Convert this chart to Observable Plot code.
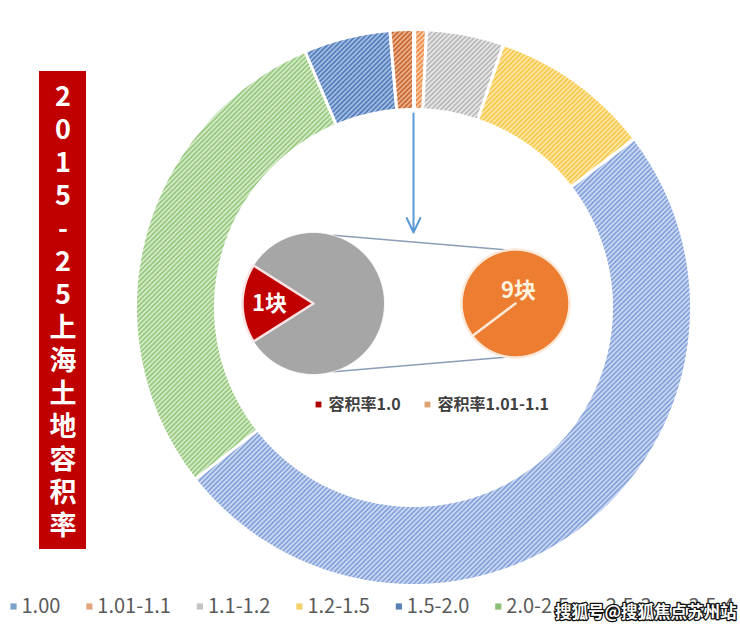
<!DOCTYPE html>
<html><head><meta charset="utf-8">
<script src="https://cdn.jsdelivr.net/npm/d3@7"></script>
<script src="https://cdn.jsdelivr.net/npm/@observablehq/plot@0.6"></script>
<style>body{margin:0;background:#fff;}</style>
</head><body><div id="chart"></div>
<script>
// ---------- data ----------
const categories = ["1.00","1.01-1.1","1.1-1.2","1.2-1.5","1.5-2.0","2.0-2.5","2.5-3","3.5-4"];
const blocks = [1, 9, 60, 125, 664, 390, 67, 18];
const legendColors = ["#7ea3c9","#e2a57c","#c4c4c4","#f3d06c","#5a80b6","#8dbf76","#466a9c","#b87044"];
const hatchFg = ["#7eaee0","#ee8c4a","#b9b9b9","#f7c84a","#86a3dc","#98c981","#5580bd","#c96a33"];
const hatchBg = ["#bdd7ee","#f8c9a5","#e6e6e6","#fde6a6","#c9d7f0","#d4eac6","#a2bbe0","#eab08c"];
const titleChars = ["2","0","1","5","-","2","5","上","海","土","地","容","积","率"];
const insetLabels = ["容积率1.0","容积率1.01-1.1"];
const insetCounts = ["1块","9块"];
const insetColors = ["#c00000","#ed7d31"];
const mainInsetShares = [0.18, 0.82];   // red slice vs grey remainder
const secondInsetShares = [1, 0];       // orange full pie with a zero slice
const watermark = "搜狐号@搜狐焦点苏州站";

// ---------- layout ----------
const W = 740, H = 634;
const cx = 413, cy = 307, R = 278, r0 = 198;
const p1 = {x: 313, y: 303, r: 71};
const p2 = {x: 515, y: 303, r: 54};
const cjk = "'Noto Sans CJK SC', 'Noto Sans', sans-serif";

function arcPts(a0, a1, ro, ri, ox, oy) {
  const pts = [];
  const n = Math.max(2, Math.ceil((a1 - a0) / (Math.PI / 360)));
  for (let k = 0; k <= n; k++) { const a = a0 + (a1 - a0) * k / n; pts.push({x: ox + ro * Math.sin(a), y: oy - ro * Math.cos(a)}); }
  if (ri > 0) {
    for (let k = n; k >= 0; k--) { const a = a0 + (a1 - a0) * k / n; pts.push({x: ox + ri * Math.sin(a), y: oy - ri * Math.cos(a)}); }
  } else {
    pts.unshift({x: ox, y: oy});
    pts.push({x: ox, y: oy});
  }
  pts.push(pts[0]);
  return pts;
}

const ringArcs = d3.pie().sort(null).value(d => d.value)(categories.map((c, i) => ({category: c, value: blocks[i]})));

const s1 = 1.5 * Math.PI - mainInsetShares[0] * Math.PI;
const inset1 = d3.pie().sort(null).startAngle(s1).endAngle(s1 + 2 * Math.PI)(mainInsetShares);
const s2 = (233 / 180) * Math.PI;
const inset2 = d3.pie().sort(null).startAngle(s2).endAngle(s2 + 2 * Math.PI)(secondInsetShares);

const marks = [];
ringArcs.forEach((a, i) => {
  marks.push(Plot.line(arcPts(a.startAngle, a.endAngle, R, r0, cx, cy), {x: "x", y: "y", fill: `url(#hatch${i})`, stroke: "white", strokeWidth: 3, strokeLinejoin: "round"}));
});
// connectors
const ang1 = 16 * Math.PI / 180, ang2 = 8 * Math.PI / 180;
const links = [
  {x1: p1.x + p1.r * Math.sin(ang1), y1: p1.y - p1.r * Math.cos(ang1), x2: p2.x - p2.r * Math.sin(ang2), y2: p2.y - p2.r * Math.cos(ang2)},
  {x1: p1.x + p1.r * Math.sin(ang1), y1: p1.y + p1.r * Math.cos(ang1), x2: p2.x - p2.r * Math.sin(ang2), y2: p2.y + p2.r * Math.cos(ang2)}
];
marks.push(Plot.link(links, {x1: "x1", y1: "y1", x2: "x2", y2: "y2", stroke: "#8c9db6", strokeWidth: 1.6}));
// inset pie 1
const inset1Fill = [insetColors[0], "#a6a6a6"];
inset1.slice().reverse().forEach((a) => {
  const i = a.index;
  marks.push(Plot.line(arcPts(a.startAngle, a.endAngle, p1.r, 0, p1.x, p1.y), {x: "x", y: "y", fill: inset1Fill[i], stroke: i === 0 ? "#fbe4e4" : "white", strokeWidth: i === 0 ? 2.5 : 1, strokeLinejoin: "round"}));
});
// inset pie 2
inset2.forEach((a) => {
  if (a.endAngle - a.startAngle < 1e-6) return;
  marks.push(Plot.line(arcPts(a.startAngle, a.endAngle, p2.r, 0, p2.x, p2.y), {x: "x", y: "y", fill: insetColors[1], stroke: "#fde9d9", strokeWidth: 2.5, strokeLinejoin: "round"}));
});
// count labels
const mid1 = (inset1[0].startAngle + inset1[0].endAngle) / 2;
marks.push(Plot.text([insetCounts[0]], {x: p1.x + 0.62 * p1.r * Math.sin(mid1), y: p1.y - 0.62 * p1.r * Math.cos(mid1), text: d => d, fill: "white", fontSize: 22, fontWeight: "bold", fontFamily: cjk}));
marks.push(Plot.text([insetCounts[1]], {x: p2.x + 3, y: p2.y - 0.24 * p2.r, text: d => d, fill: "#fff4e0", fontSize: 22, fontWeight: "bold", fontFamily: cjk}));
// arrow
marks.push(Plot.arrow([0], {x1: cx, y1: cy - r0 + 4, x2: cx, y2: p1.y - p1.r, stroke: "#5b9bd5", strokeWidth: 2, headLength: 12, headAngle: 50}));
// inset legend
const insetLegendX = [318, 427];
marks.push(Plot.dot(insetLabels, {x: (d, i) => insetLegendX[i], y: 404, symbol: "square", r: 3.3, fill: (d, i) => i === 0 ? "#b00000" : "#e0a070", stroke: null}));
marks.push(Plot.text(insetLabels, {x: (d, i) => insetLegendX[i] + 10, y: 404, text: d => d, textAnchor: "start", fill: "#404040", fontSize: 16, fontWeight: "bold", fontFamily: cjk}));
// title box
marks.push(Plot.rect([0], {x1: 39, x2: 86, y1: 71, y2: 549, fill: "#c00000"}));
marks.push(Plot.text(titleChars, {x: 62.5, y: (d, i) => 97 + i * 33, text: d => d, fill: "white", fontSize: 27, fontWeight: "bold", fontFamily: cjk}));
// bottom legend
const legFont = 20;
const ctx = document.createElement("canvas").getContext("2d");
ctx.font = `${legFont}px ${cjk}`;
const legX = [];
let xx = 13;
categories.forEach((c) => { legX.push(xx); xx += 8 + ctx.measureText(c).width + 29; });
marks.push(Plot.dot(categories, {x: (d, i) => legX[i], y: 606, symbol: "square", r: 3.5, fill: (d, i) => legendColors[i], stroke: null}));
marks.push(Plot.text(categories, {x: (d, i) => legX[i] + 8, y: 606, text: d => d, textAnchor: "start", fill: "#595959", fontSize: legFont, fontFamily: cjk}));
// watermark
marks.push(Plot.text([watermark], {x: 736, y: 612, text: d => d, textAnchor: "end", fill: "white", stroke: "#111", strokeWidth: 2.6, fontSize: 16.5, fontWeight: "bold", fontFamily: cjk}));

const svg = Plot.plot({
  width: W, height: H, margin: 0,
  x: {domain: [0, W], range: [0, W], axis: null},
  y: {domain: [0, H], range: [0, H], axis: null},
  style: {background: "white", overflow: "visible"},
  marks
});
const defs = d3.select(svg).insert("defs", ":first-child");
hatchFg.forEach((fg, i) => {
  const p = defs.append("pattern").attr("id", `hatch${i}`).attr("patternUnits", "userSpaceOnUse")
    .attr("width", 3.4).attr("height", 3.4).attr("patternTransform", "rotate(45)");
  p.append("rect").attr("width", 3.4).attr("height", 3.4).attr("fill", hatchBg[i]);
  p.append("rect").attr("width", 1.7).attr("height", 3.4).attr("fill", fg);
});
document.getElementById("chart").appendChild(svg);
</script>
</body></html>
